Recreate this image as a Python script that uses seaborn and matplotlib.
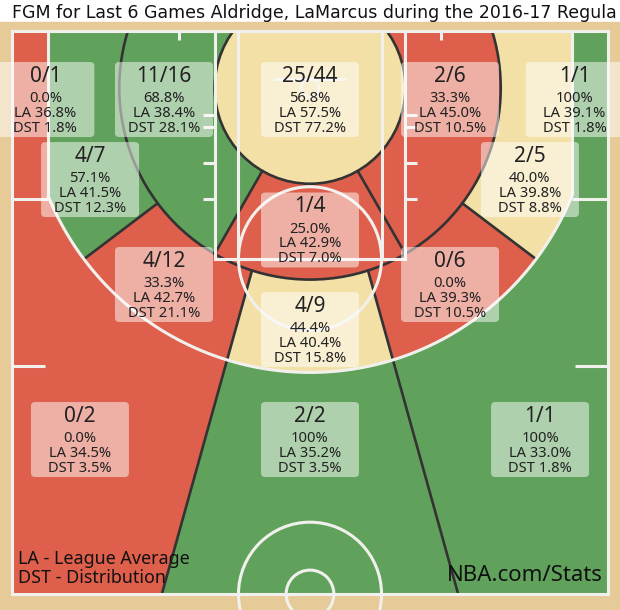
import numpy as np
import matplotlib
matplotlib.use("Agg")
import matplotlib.pyplot as plt
from matplotlib.patches import Rectangle, Circle, Wedge, Polygon, FancyBboxPatch
import seaborn as sns

# zone stats
zones = ["Left Corner 3", "Left Side 8-16", "Restricted Area", "Right Side 8-16",
         "Right Corner 3", "Left Side 16-24", "Right Side 16-24", "Center 8-16",
         "Left Center 16-24", "Right Center 16-24", "Center 16-24",
         "Left Wing 3", "Center 3", "Right Wing 3"]
made = [0, 11, 25, 2, 1, 4, 2, 1, 4, 0, 4, 0, 2, 1]
attempts = [1, 16, 44, 6, 1, 7, 5, 4, 12, 6, 9, 2, 2, 1]
league_avg = [36.8, 38.4, 57.5, 45.0, 39.1, 41.5, 39.8, 42.9, 42.7, 39.3, 40.4, 34.5, 35.2, 33.0]
distribution = [1.8, 28.1, 77.2, 10.5, 1.8, 12.3, 8.8, 7.0, 21.1, 10.5, 15.8, 3.5, 3.5, 1.8]

# the title as it shows in the picture (cut at the right edge there)
title = "FGM for Last 6 Games Aldridge, LaMarcus during the 2016-17 Regula"

# label box centres, court units (tenths of feet, basket at 0,0)
label_pos = [(-222, 9.7), (-122.5, 9.7), (0, 9.7), (117.5, 9.7), (222, 9.7),
             (-184.5, 76.5), (184.5, 76.5), (0, 118.6), (-122.5, 164.1),
             (117.5, 164.1), (0, 201.7), (-193, 293.5), (0, 293.5), (193, 293.5)]

RED, GREEN, YELLOW = "#de5f4b", "#60a25b", "#f3e0a6"
WOOD = "#e6cb99"
LINE = "#f1f0ec"
DARK = "#333333"


def zone_color(i):
    pct = 100.0 * made[i] / attempts[i]
    diff = pct - league_avg[i]
    if diff > 5:
        return GREEN
    if diff < -5:
        return RED
    return YELLOW


def pct_text(i):
    pct = 100.0 * made[i] / attempts[i]
    return "100%" if made[i] == attempts[i] else "%.1f%%" % pct


def line_x(y, side):
    # boundary line between the centre zones and the side-centre zones
    return side * (6 + 0.28 * y)


sns.set_theme(style="white")
plt.rcParams['font.family'] = ['Noto Sans', 'DejaVu Sans']

SX, SY = 1.192, 1.198
fig = plt.figure(figsize=(6.2, 6.1), dpi=100)
fig.patch.set_facecolor("white")
ax = fig.add_axes([0, 0, 1, 1])
ax.set_xlim(-310 / SX, 310 / SX)
ax.set_ylim(-47.5 + 579 / SY, -47.5 - 31 / SY)
ax.axis("off")

ax.add_patch(Rectangle((-270, -55), 540, 500, color=WOOD, zorder=0))

court = Rectangle((-250, -47.5), 500, 470, transform=ax.transData)
colors = [zone_color(i) for i in range(len(zones))]

# three point zones
ax.add_patch(Rectangle((-250, -47.5), 500, 470, color=colors[12], zorder=1))
for side, ci in [(-1, 11), (1, 13)]:
    p = Polygon([(side * 270, -60), (line_x(-60, side), -60),
                 (line_x(440, side), 440), (side * 270, 440)],
                color=colors[ci], zorder=1)
    ax.add_patch(p)
    p.set_clip_path(court)
ax.add_patch(Rectangle((-250, -47.5), 30, 140, color=colors[0], zorder=1))
ax.add_patch(Rectangle((220, -47.5), 30, 140, color=colors[4], zorder=1))

# inside the arc, 16-24 ft
yj = np.sqrt(237.5 ** 2 - 220 ** 2)
tj = np.degrees(np.arctan2(yj, 220))
th = np.radians(np.linspace(tj, 180 - tj, 120))
arc_pts = np.column_stack([237.5 * np.cos(th), 237.5 * np.sin(th)])
inside3 = Polygon(np.vstack([[(220, -47.5), (220, yj)], arc_pts, [(-220, yj), (-220, -47.5)]]),
                  transform=ax.transData)

a1, a2 = np.radians(143), np.radians(37)
mid_zones = [
    (Wedge((0, 0), 600, 143, 270), 5),
    (Polygon([(0, 0), (600 * np.cos(a1), 600 * np.sin(a1)), (line_x(800, -1), 800),
              (line_x(0, -1), 0)]), 8),
    (Polygon([(line_x(0, -1), 0), (line_x(800, -1), 800), (line_x(800, 1), 800),
              (line_x(0, 1), 0)]), 10),
    (Polygon([(line_x(0, 1), 0), (line_x(800, 1), 800), (600 * np.cos(a2), 600 * np.sin(a2)),
              (0, 0)]), 9),
    (Wedge((0, 0), 600, -90, 37), 6),
]
for patch, ci in mid_zones:
    patch.set_facecolor(colors[ci])
    patch.set_edgecolor("none")
    patch.set_zorder(2)
    ax.add_patch(patch)
    patch.set_clip_path(inside3)

# within 16 ft
for patch, ci in [(Wedge((0, 0), 160, 120, 270), 1), (Wedge((0, 0), 160, 60, 120), 7),
                  (Wedge((0, 0), 160, -90, 60), 3), (Circle((0, 0), 80), 2)]:
    patch.set_facecolor(colors[ci])
    patch.set_edgecolor("none")
    patch.set_zorder(3)
    ax.add_patch(patch)
    patch.set_clip_path(court)

# dark zone borders
for r in [80, 160]:
    c = Circle((0, 0), r, fill=False, ec=DARK, lw=1.9, zorder=4)
    ax.add_patch(c)
    c.set_clip_path(court)
for ang, r0, r1 in [(60, 80, 160), (120, 80, 160), (37, 160, 237.5), (143, 160, 237.5)]:
    t = np.radians(ang)
    ax.plot([r0 * np.cos(t), r1 * np.cos(t)], [r0 * np.sin(t), r1 * np.sin(t)],
            color=DARK, lw=1.9, zorder=4)
qa, qb, qc = 1 + 0.28 ** 2, 2 * 6 * 0.28, 36 - 160 ** 2
y16 = (-qb + np.sqrt(qb ** 2 - 4 * qa * qc)) / (2 * qa)
for side in [-1, 1]:
    ax.plot([line_x(y16, side), line_x(422.5, side)], [y16, 422.5],
            color=DARK, lw=1.9, zorder=4)

# court lines
lw = 2.2
kw = dict(color=LINE, lw=lw, zorder=5, solid_capstyle="butt")
ax.add_patch(Rectangle((-250, -47.5), 500, 470, fill=False, ec=LINE, lw=lw, zorder=5))
ax.add_patch(Rectangle((-80, -47.5), 160, 190, fill=False, ec=LINE, lw=lw, zorder=5))
ax.add_patch(Rectangle((-60, -47.5), 120, 190, fill=False, ec=LINE, lw=lw, zorder=5))
ax.add_patch(Circle((0, 142.5), 60, fill=False, ec=LINE, lw=lw, zorder=5))
ax.add_patch(Circle((0, 0), 7.5, fill=False, ec=LINE, lw=1.5, zorder=5))
ax.add_patch(Circle((0, 422.5), 60, fill=False, ec=LINE, lw=lw, zorder=5))
ax.add_patch(Circle((0, 422.5), 20, fill=False, ec=LINE, lw=lw, zorder=5))
ax.plot([-30, 30], [-7.5, -7.5], **kw)
ax.plot(arc_pts[:, 0], arc_pts[:, 1], **kw)
for side in [-1, 1]:
    ax.plot([side * 220, side * 220], [-47.5, yj], **kw)
    ax.plot([side * 220, side * 250], [92.5, 92.5], **kw)
    ax.plot([side * 222, side * 250], [232.5, 232.5], **kw)
    ax.plot([side * 110, side * 110], [-47.5, -40], **kw)
    for yy in [22.5, 32.5, 62.5, 92.5]:
        ax.plot([side * 80, side * 90], [yy, yy], **kw)

# label boxes
bw, bh = 98 / SX, 75 / SY
for i, (x, y) in enumerate(label_pos):
    ax.add_patch(FancyBboxPatch((x - bw / 2, y - bh / 2), bw, bh,
                                boxstyle="round,pad=0,rounding_size=3.5",
                                fc="white", ec="none", alpha=0.5, zorder=6))
    tkw = dict(ha="center", va="baseline", color="#222222", zorder=7)
    ax.text(x, y - 14.6, "%d/%d" % (made[i], attempts[i]), fontsize=15, **tkw)
    ax.text(x, y + 2.1, pct_text(i), fontsize=10.6, **tkw)
    ax.text(x, y + 14.6, "LA %.1f%%" % league_avg[i], fontsize=10.6, **tkw)
    ax.text(x, y + 27.1, "DST %.1f%%" % distribution[i], fontsize=10.6, **tkw)

t = ax.text(-250, -58.4, title, fontsize=13, ha="left", va="baseline",
            color="#111111", family=["DejaVu Sans"])
# size the title so it runs from the court edge nearly to the right edge
fig.canvas.draw()
w = t.get_window_extent().width
t.set_fontsize(13 * 601.0 / w)

ax.text(-245, 393, "LA - League Average", fontsize=12.9, ha="left", va="center", color="#111111", zorder=7)
ax.text(-245, 409, "DST - Distribution", fontsize=12.9, ha="left", va="center", color="#111111", zorder=7)
ax.text(246, 407, "NBA.com/Stats", fontsize=16, ha="right", va="center", color="#111111", zorder=7)

plt.savefig("out.png", dpi=100, facecolor=fig.get_facecolor())
